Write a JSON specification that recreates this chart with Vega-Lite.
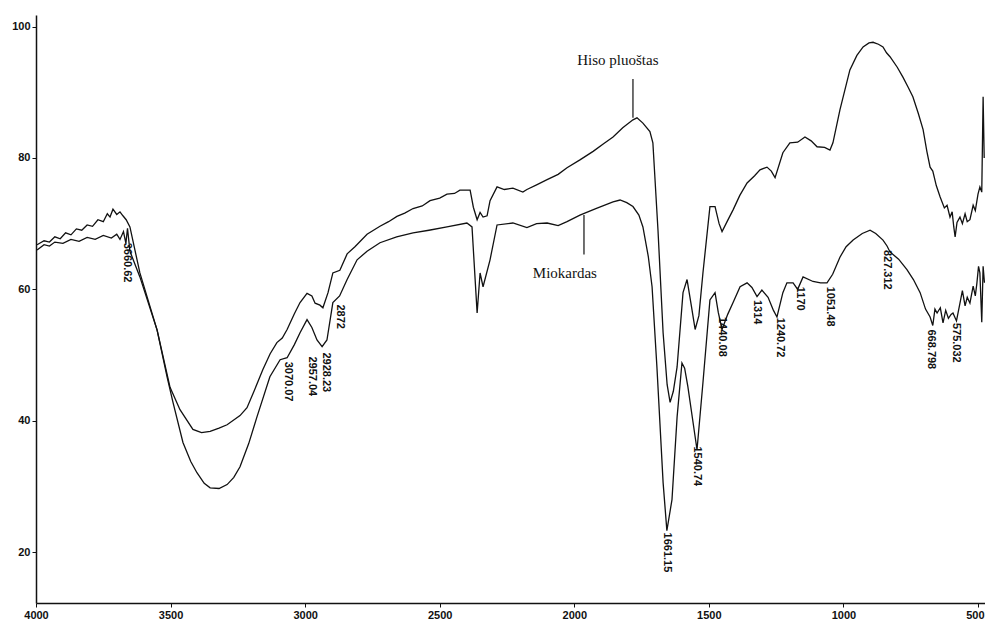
{
  "$schema": "https://vega.github.io/schema/vega-lite/v6.json",
  "width": 949,
  "height": 588,
  "autosize": "none",
  "padding": {"left": 36, "top": 15, "right": 0, "bottom": 22},
  "background": "white",
  "config": {
    "view": {"stroke": null},
    "axis": {
      "grid": false,
      "domainColor": "#111",
      "domainWidth": 1.5,
      "tickColor": "#111",
      "tickSize": 4,
      "tickWidth": 1,
      "labelFont": "Liberation Sans",
      "labelFontWeight": "bold",
      "labelFontSize": 11,
      "labelColor": "#111",
      "labelFlush": false,
      "labelOverlap": false,
      "title": null
    }
  },
  "datasets": {
    "spectra": [
      {"s": "Hiso pluoštas", "wn": 3996, "t": 66.8},
      {"s": "Hiso pluoštas", "wn": 3970, "t": 67.4},
      {"s": "Hiso pluoštas", "wn": 3950, "t": 67.2},
      {"s": "Hiso pluoštas", "wn": 3930, "t": 68.0},
      {"s": "Hiso pluoštas", "wn": 3910, "t": 67.7},
      {"s": "Hiso pluoštas", "wn": 3890, "t": 68.6},
      {"s": "Hiso pluoštas", "wn": 3870, "t": 68.3},
      {"s": "Hiso pluoštas", "wn": 3850, "t": 69.2},
      {"s": "Hiso pluoštas", "wn": 3830, "t": 69.0},
      {"s": "Hiso pluoštas", "wn": 3810, "t": 69.8},
      {"s": "Hiso pluoštas", "wn": 3790, "t": 69.6},
      {"s": "Hiso pluoštas", "wn": 3770, "t": 70.6},
      {"s": "Hiso pluoštas", "wn": 3750, "t": 70.3},
      {"s": "Hiso pluoštas", "wn": 3735, "t": 71.5},
      {"s": "Hiso pluoštas", "wn": 3725, "t": 71.0},
      {"s": "Hiso pluoštas", "wn": 3714, "t": 72.2},
      {"s": "Hiso pluoštas", "wn": 3700, "t": 71.4},
      {"s": "Hiso pluoštas", "wn": 3688, "t": 71.8},
      {"s": "Hiso pluoštas", "wn": 3677, "t": 71.2},
      {"s": "Hiso pluoštas", "wn": 3665, "t": 70.6},
      {"s": "Hiso pluoštas", "wn": 3651, "t": 69.5},
      {"s": "Hiso pluoštas", "wn": 3614, "t": 62.5},
      {"s": "Hiso pluoštas", "wn": 3550, "t": 53.8},
      {"s": "Hiso pluoštas", "wn": 3502, "t": 45.1},
      {"s": "Hiso pluoštas", "wn": 3465, "t": 41.7},
      {"s": "Hiso pluoštas", "wn": 3417, "t": 38.7},
      {"s": "Hiso pluoštas", "wn": 3385, "t": 38.2},
      {"s": "Hiso pluoštas", "wn": 3353, "t": 38.4},
      {"s": "Hiso pluoštas", "wn": 3320, "t": 38.9},
      {"s": "Hiso pluoštas", "wn": 3290, "t": 39.4},
      {"s": "Hiso pluoštas", "wn": 3242, "t": 40.8},
      {"s": "Hiso pluoštas", "wn": 3216, "t": 42.0},
      {"s": "Hiso pluoštas", "wn": 3190, "t": 44.5},
      {"s": "Hiso pluoštas", "wn": 3157, "t": 47.8},
      {"s": "Hiso pluoštas", "wn": 3130, "t": 50.2},
      {"s": "Hiso pluoštas", "wn": 3105, "t": 51.9},
      {"s": "Hiso pluoštas", "wn": 3085, "t": 52.6},
      {"s": "Hiso pluoštas", "wn": 3067, "t": 53.9},
      {"s": "Hiso pluoštas", "wn": 3040, "t": 56.3},
      {"s": "Hiso pluoštas", "wn": 3019, "t": 58.0},
      {"s": "Hiso pluoštas", "wn": 2993, "t": 59.4},
      {"s": "Hiso pluoštas", "wn": 2975, "t": 59.0},
      {"s": "Hiso pluoštas", "wn": 2963, "t": 57.9},
      {"s": "Hiso pluoštas", "wn": 2945, "t": 57.6},
      {"s": "Hiso pluoštas", "wn": 2934, "t": 57.2},
      {"s": "Hiso pluoštas", "wn": 2915, "t": 59.5},
      {"s": "Hiso pluoštas", "wn": 2897, "t": 62.5},
      {"s": "Hiso pluoštas", "wn": 2871, "t": 62.9},
      {"s": "Hiso pluoštas", "wn": 2844, "t": 65.4},
      {"s": "Hiso pluoštas", "wn": 2815, "t": 66.5},
      {"s": "Hiso pluoštas", "wn": 2770, "t": 68.4},
      {"s": "Hiso pluoštas", "wn": 2722, "t": 69.6},
      {"s": "Hiso pluoštas", "wn": 2690, "t": 70.3},
      {"s": "Hiso pluoštas", "wn": 2659, "t": 71.1},
      {"s": "Hiso pluoštas", "wn": 2630, "t": 71.6},
      {"s": "Hiso pluoštas", "wn": 2599, "t": 72.3},
      {"s": "Hiso pluoštas", "wn": 2565, "t": 72.7},
      {"s": "Hiso pluoštas", "wn": 2536, "t": 73.5},
      {"s": "Hiso pluoštas", "wn": 2500, "t": 73.9},
      {"s": "Hiso pluoštas", "wn": 2473, "t": 74.5},
      {"s": "Hiso pluoštas", "wn": 2445, "t": 74.6},
      {"s": "Hiso pluoštas", "wn": 2425, "t": 75.1},
      {"s": "Hiso pluoštas", "wn": 2387, "t": 75.1},
      {"s": "Hiso pluoštas", "wn": 2375, "t": 72.5},
      {"s": "Hiso pluoštas", "wn": 2361, "t": 70.6},
      {"s": "Hiso pluoštas", "wn": 2350, "t": 71.7},
      {"s": "Hiso pluoštas", "wn": 2339, "t": 71.0},
      {"s": "Hiso pluoštas", "wn": 2324, "t": 71.2},
      {"s": "Hiso pluoštas", "wn": 2313, "t": 73.5},
      {"s": "Hiso pluoštas", "wn": 2287, "t": 75.6},
      {"s": "Hiso pluoštas", "wn": 2260, "t": 75.2},
      {"s": "Hiso pluoštas", "wn": 2228, "t": 75.4},
      {"s": "Hiso pluoštas", "wn": 2191, "t": 74.8},
      {"s": "Hiso pluoštas", "wn": 2176, "t": 75.2},
      {"s": "Hiso pluoštas", "wn": 2140, "t": 75.9},
      {"s": "Hiso pluoštas", "wn": 2101, "t": 76.7},
      {"s": "Hiso pluoštas", "wn": 2060, "t": 77.5},
      {"s": "Hiso pluoštas", "wn": 2027, "t": 78.5},
      {"s": "Hiso pluoštas", "wn": 1979, "t": 79.7},
      {"s": "Hiso pluoštas", "wn": 1930, "t": 81.0},
      {"s": "Hiso pluoštas", "wn": 1890, "t": 82.2},
      {"s": "Hiso pluoštas", "wn": 1856, "t": 83.2},
      {"s": "Hiso pluoštas", "wn": 1820, "t": 84.6},
      {"s": "Hiso pluoštas", "wn": 1782, "t": 85.8},
      {"s": "Hiso pluoštas", "wn": 1767, "t": 86.1},
      {"s": "Hiso pluoštas", "wn": 1745, "t": 85.3},
      {"s": "Hiso pluoštas", "wn": 1719, "t": 84.0},
      {"s": "Hiso pluoštas", "wn": 1708, "t": 82.3},
      {"s": "Hiso pluoštas", "wn": 1689, "t": 69.0},
      {"s": "Hiso pluoštas", "wn": 1670, "t": 53.4},
      {"s": "Hiso pluoštas", "wn": 1655, "t": 45.5},
      {"s": "Hiso pluoštas", "wn": 1644, "t": 42.8},
      {"s": "Hiso pluoštas", "wn": 1632, "t": 44.5},
      {"s": "Hiso pluoštas", "wn": 1618, "t": 48.2},
      {"s": "Hiso pluoštas", "wn": 1596, "t": 59.5},
      {"s": "Hiso pluoštas", "wn": 1581, "t": 61.5},
      {"s": "Hiso pluoštas", "wn": 1565, "t": 57.5},
      {"s": "Hiso pluoštas", "wn": 1551, "t": 53.9},
      {"s": "Hiso pluoštas", "wn": 1537, "t": 56.0},
      {"s": "Hiso pluoštas", "wn": 1522, "t": 62.5},
      {"s": "Hiso pluoštas", "wn": 1496, "t": 72.6},
      {"s": "Hiso pluoštas", "wn": 1477, "t": 72.6},
      {"s": "Hiso pluoštas", "wn": 1462, "t": 70.0},
      {"s": "Hiso pluoštas", "wn": 1451, "t": 68.8},
      {"s": "Hiso pluoštas", "wn": 1430, "t": 70.5},
      {"s": "Hiso pluoštas", "wn": 1410, "t": 72.1},
      {"s": "Hiso pluoštas", "wn": 1385, "t": 74.3},
      {"s": "Hiso pluoštas", "wn": 1358, "t": 76.2},
      {"s": "Hiso pluoštas", "wn": 1330, "t": 77.3},
      {"s": "Hiso pluoštas", "wn": 1310, "t": 78.2},
      {"s": "Hiso pluoštas", "wn": 1284, "t": 78.6},
      {"s": "Hiso pluoštas", "wn": 1268, "t": 78.0},
      {"s": "Hiso pluoštas", "wn": 1254, "t": 77.0},
      {"s": "Hiso pluoštas", "wn": 1225, "t": 80.8},
      {"s": "Hiso pluoštas", "wn": 1199, "t": 82.3},
      {"s": "Hiso pluoštas", "wn": 1170, "t": 82.4},
      {"s": "Hiso pluoštas", "wn": 1143, "t": 83.2},
      {"s": "Hiso pluoštas", "wn": 1120, "t": 82.6},
      {"s": "Hiso pluoštas", "wn": 1098, "t": 81.7},
      {"s": "Hiso pluoštas", "wn": 1070, "t": 81.6},
      {"s": "Hiso pluoštas", "wn": 1050, "t": 81.2},
      {"s": "Hiso pluoštas", "wn": 1039, "t": 82.3},
      {"s": "Hiso pluoštas", "wn": 1013, "t": 87.3},
      {"s": "Hiso pluoštas", "wn": 976, "t": 93.4},
      {"s": "Hiso pluoštas", "wn": 950, "t": 95.6},
      {"s": "Hiso pluoštas", "wn": 927, "t": 96.9},
      {"s": "Hiso pluoštas", "wn": 905, "t": 97.5},
      {"s": "Hiso pluoštas", "wn": 890, "t": 97.6},
      {"s": "Hiso pluoštas", "wn": 870, "t": 97.3},
      {"s": "Hiso pluoštas", "wn": 853, "t": 96.9},
      {"s": "Hiso pluoštas", "wn": 840, "t": 96.0},
      {"s": "Hiso pluoštas", "wn": 827, "t": 95.4},
      {"s": "Hiso pluoštas", "wn": 800, "t": 93.8},
      {"s": "Hiso pluoštas", "wn": 779, "t": 92.3},
      {"s": "Hiso pluoštas", "wn": 760, "t": 90.8},
      {"s": "Hiso pluoštas", "wn": 742, "t": 89.3},
      {"s": "Hiso pluoštas", "wn": 722, "t": 86.8},
      {"s": "Hiso pluoštas", "wn": 704, "t": 84.3},
      {"s": "Hiso pluoštas", "wn": 690, "t": 81.0},
      {"s": "Hiso pluoštas", "wn": 678, "t": 78.6},
      {"s": "Hiso pluoštas", "wn": 668, "t": 78.0},
      {"s": "Hiso pluoštas", "wn": 655, "t": 75.8},
      {"s": "Hiso pluoštas", "wn": 641, "t": 74.1},
      {"s": "Hiso pluoštas", "wn": 625, "t": 72.4},
      {"s": "Hiso pluoštas", "wn": 615, "t": 72.8},
      {"s": "Hiso pluoštas", "wn": 604, "t": 71.0},
      {"s": "Hiso pluoštas", "wn": 596, "t": 71.8},
      {"s": "Hiso pluoštas", "wn": 590, "t": 69.5},
      {"s": "Hiso pluoštas", "wn": 585, "t": 68.0},
      {"s": "Hiso pluoštas", "wn": 578, "t": 70.2},
      {"s": "Hiso pluoštas", "wn": 567, "t": 71.0},
      {"s": "Hiso pluoštas", "wn": 558, "t": 70.0},
      {"s": "Hiso pluoštas", "wn": 548, "t": 71.5},
      {"s": "Hiso pluoštas", "wn": 540, "t": 70.3},
      {"s": "Hiso pluoštas", "wn": 530, "t": 70.6},
      {"s": "Hiso pluoštas", "wn": 518, "t": 72.8},
      {"s": "Hiso pluoštas", "wn": 510, "t": 72.0},
      {"s": "Hiso pluoštas", "wn": 500, "t": 74.5},
      {"s": "Hiso pluoštas", "wn": 493, "t": 75.6},
      {"s": "Hiso pluoštas", "wn": 486, "t": 74.8},
      {"s": "Hiso pluoštas", "wn": 481, "t": 89.3},
      {"s": "Hiso pluoštas", "wn": 477, "t": 80.0},

      {"s": "Miokardas", "wn": 3996, "t": 66.0},
      {"s": "Miokardas", "wn": 3970, "t": 66.8},
      {"s": "Miokardas", "wn": 3950, "t": 66.6},
      {"s": "Miokardas", "wn": 3930, "t": 67.2},
      {"s": "Miokardas", "wn": 3900, "t": 67.0},
      {"s": "Miokardas", "wn": 3870, "t": 67.6},
      {"s": "Miokardas", "wn": 3840, "t": 67.3},
      {"s": "Miokardas", "wn": 3810, "t": 67.9},
      {"s": "Miokardas", "wn": 3780, "t": 67.6},
      {"s": "Miokardas", "wn": 3750, "t": 68.2},
      {"s": "Miokardas", "wn": 3720, "t": 67.8},
      {"s": "Miokardas", "wn": 3700, "t": 68.4},
      {"s": "Miokardas", "wn": 3688, "t": 67.6},
      {"s": "Miokardas", "wn": 3675, "t": 68.8},
      {"s": "Miokardas", "wn": 3666, "t": 67.0},
      {"s": "Miokardas", "wn": 3660, "t": 69.3},
      {"s": "Miokardas", "wn": 3651, "t": 65.8},
      {"s": "Miokardas", "wn": 3614, "t": 61.9},
      {"s": "Miokardas", "wn": 3550, "t": 53.8},
      {"s": "Miokardas", "wn": 3513, "t": 46.7},
      {"s": "Miokardas", "wn": 3491, "t": 42.8},
      {"s": "Miokardas", "wn": 3454, "t": 36.7},
      {"s": "Miokardas", "wn": 3425, "t": 33.8},
      {"s": "Miokardas", "wn": 3402, "t": 32.1},
      {"s": "Miokardas", "wn": 3375, "t": 30.5},
      {"s": "Miokardas", "wn": 3353, "t": 29.8},
      {"s": "Miokardas", "wn": 3320, "t": 29.7},
      {"s": "Miokardas", "wn": 3290, "t": 30.3},
      {"s": "Miokardas", "wn": 3265, "t": 31.4},
      {"s": "Miokardas", "wn": 3242, "t": 33.0},
      {"s": "Miokardas", "wn": 3210, "t": 36.5},
      {"s": "Miokardas", "wn": 3179, "t": 40.6},
      {"s": "Miokardas", "wn": 3131, "t": 46.7},
      {"s": "Miokardas", "wn": 3093, "t": 49.3},
      {"s": "Miokardas", "wn": 3067, "t": 49.6},
      {"s": "Miokardas", "wn": 3040, "t": 51.6},
      {"s": "Miokardas", "wn": 3019, "t": 53.4},
      {"s": "Miokardas", "wn": 2993, "t": 55.4},
      {"s": "Miokardas", "wn": 2975, "t": 54.2},
      {"s": "Miokardas", "wn": 2956, "t": 52.3},
      {"s": "Miokardas", "wn": 2937, "t": 51.3},
      {"s": "Miokardas", "wn": 2919, "t": 52.3},
      {"s": "Miokardas", "wn": 2897, "t": 58.0},
      {"s": "Miokardas", "wn": 2872, "t": 59.0},
      {"s": "Miokardas", "wn": 2844, "t": 61.5},
      {"s": "Miokardas", "wn": 2807, "t": 64.5},
      {"s": "Miokardas", "wn": 2770, "t": 65.8},
      {"s": "Miokardas", "wn": 2722, "t": 67.1},
      {"s": "Miokardas", "wn": 2660, "t": 68.0},
      {"s": "Miokardas", "wn": 2599, "t": 68.6},
      {"s": "Miokardas", "wn": 2540, "t": 69.0},
      {"s": "Miokardas", "wn": 2473, "t": 69.5},
      {"s": "Miokardas", "wn": 2399, "t": 70.1},
      {"s": "Miokardas", "wn": 2380, "t": 69.5},
      {"s": "Miokardas", "wn": 2361, "t": 56.4},
      {"s": "Miokardas", "wn": 2350, "t": 62.5},
      {"s": "Miokardas", "wn": 2339, "t": 60.4},
      {"s": "Miokardas", "wn": 2313, "t": 64.5},
      {"s": "Miokardas", "wn": 2287, "t": 69.8},
      {"s": "Miokardas", "wn": 2228, "t": 70.1},
      {"s": "Miokardas", "wn": 2176, "t": 69.4},
      {"s": "Miokardas", "wn": 2140, "t": 70.0},
      {"s": "Miokardas", "wn": 2101, "t": 70.1},
      {"s": "Miokardas", "wn": 2060, "t": 69.7},
      {"s": "Miokardas", "wn": 2027, "t": 70.3},
      {"s": "Miokardas", "wn": 1979, "t": 71.3},
      {"s": "Miokardas", "wn": 1920, "t": 72.3},
      {"s": "Miokardas", "wn": 1856, "t": 73.3},
      {"s": "Miokardas", "wn": 1830, "t": 73.6},
      {"s": "Miokardas", "wn": 1805, "t": 73.2},
      {"s": "Miokardas", "wn": 1782, "t": 72.6},
      {"s": "Miokardas", "wn": 1760, "t": 71.3},
      {"s": "Miokardas", "wn": 1745, "t": 69.5},
      {"s": "Miokardas", "wn": 1725, "t": 65.0},
      {"s": "Miokardas", "wn": 1711, "t": 60.4},
      {"s": "Miokardas", "wn": 1693, "t": 48.2},
      {"s": "Miokardas", "wn": 1670, "t": 30.6},
      {"s": "Miokardas", "wn": 1656, "t": 23.3},
      {"s": "Miokardas", "wn": 1637, "t": 28.0},
      {"s": "Miokardas", "wn": 1618, "t": 40.6},
      {"s": "Miokardas", "wn": 1600, "t": 48.8},
      {"s": "Miokardas", "wn": 1590, "t": 48.0},
      {"s": "Miokardas", "wn": 1578, "t": 45.2},
      {"s": "Miokardas", "wn": 1544, "t": 35.6},
      {"s": "Miokardas", "wn": 1522, "t": 45.8},
      {"s": "Miokardas", "wn": 1496, "t": 58.4},
      {"s": "Miokardas", "wn": 1477, "t": 59.5},
      {"s": "Miokardas", "wn": 1465, "t": 56.5},
      {"s": "Miokardas", "wn": 1451, "t": 53.9},
      {"s": "Miokardas", "wn": 1430, "t": 56.2},
      {"s": "Miokardas", "wn": 1410, "t": 58.0},
      {"s": "Miokardas", "wn": 1384, "t": 60.4},
      {"s": "Miokardas", "wn": 1358, "t": 61.0},
      {"s": "Miokardas", "wn": 1340, "t": 60.3},
      {"s": "Miokardas", "wn": 1321, "t": 58.9},
      {"s": "Miokardas", "wn": 1303, "t": 59.9},
      {"s": "Miokardas", "wn": 1280, "t": 58.8},
      {"s": "Miokardas", "wn": 1260, "t": 56.8},
      {"s": "Miokardas", "wn": 1247, "t": 55.8},
      {"s": "Miokardas", "wn": 1225, "t": 59.5},
      {"s": "Miokardas", "wn": 1210, "t": 61.0},
      {"s": "Miokardas", "wn": 1187, "t": 61.0},
      {"s": "Miokardas", "wn": 1170, "t": 60.0},
      {"s": "Miokardas", "wn": 1150, "t": 61.9},
      {"s": "Miokardas", "wn": 1113, "t": 61.2},
      {"s": "Miokardas", "wn": 1085, "t": 61.0},
      {"s": "Miokardas", "wn": 1061, "t": 61.0},
      {"s": "Miokardas", "wn": 1040, "t": 62.3},
      {"s": "Miokardas", "wn": 1013, "t": 64.9},
      {"s": "Miokardas", "wn": 990, "t": 66.5},
      {"s": "Miokardas", "wn": 964, "t": 67.5},
      {"s": "Miokardas", "wn": 930, "t": 68.5},
      {"s": "Miokardas", "wn": 901, "t": 69.0},
      {"s": "Miokardas", "wn": 880, "t": 68.5},
      {"s": "Miokardas", "wn": 853, "t": 67.5},
      {"s": "Miokardas", "wn": 838, "t": 66.6},
      {"s": "Miokardas", "wn": 827, "t": 65.7},
      {"s": "Miokardas", "wn": 795, "t": 64.6},
      {"s": "Miokardas", "wn": 764, "t": 63.0},
      {"s": "Miokardas", "wn": 740, "t": 61.5},
      {"s": "Miokardas", "wn": 715, "t": 59.5},
      {"s": "Miokardas", "wn": 695, "t": 57.0},
      {"s": "Miokardas", "wn": 678, "t": 55.8},
      {"s": "Miokardas", "wn": 668, "t": 54.5},
      {"s": "Miokardas", "wn": 660, "t": 57.0},
      {"s": "Miokardas", "wn": 652, "t": 56.4},
      {"s": "Miokardas", "wn": 640, "t": 57.2},
      {"s": "Miokardas", "wn": 630, "t": 54.9},
      {"s": "Miokardas", "wn": 620, "t": 56.8},
      {"s": "Miokardas", "wn": 610, "t": 55.6},
      {"s": "Miokardas", "wn": 600, "t": 56.2},
      {"s": "Miokardas", "wn": 593, "t": 56.4},
      {"s": "Miokardas", "wn": 580, "t": 55.2},
      {"s": "Miokardas", "wn": 567, "t": 57.9},
      {"s": "Miokardas", "wn": 558, "t": 59.8},
      {"s": "Miokardas", "wn": 548, "t": 57.5},
      {"s": "Miokardas", "wn": 540, "t": 58.8},
      {"s": "Miokardas", "wn": 530, "t": 57.9},
      {"s": "Miokardas", "wn": 518, "t": 60.5},
      {"s": "Miokardas", "wn": 510, "t": 59.0},
      {"s": "Miokardas", "wn": 504, "t": 61.0},
      {"s": "Miokardas", "wn": 498, "t": 63.5},
      {"s": "Miokardas", "wn": 493, "t": 62.5},
      {"s": "Miokardas", "wn": 486, "t": 55.0},
      {"s": "Miokardas", "wn": 481, "t": 63.5},
      {"s": "Miokardas", "wn": 476, "t": 61.0}
    ],
    "peaks": [
      {"label": "3660.62", "wn": 3662, "t": 67.1},
      {"label": "3070.07", "wn": 3064, "t": 49.0},
      {"label": "2957.04", "wn": 2975, "t": 49.8},
      {"label": "2928.23", "wn": 2923, "t": 50.4},
      {"label": "2872", "wn": 2870, "t": 57.7},
      {"label": "1661.15", "wn": 1656, "t": 23.0},
      {"label": "1540.74", "wn": 1544, "t": 36.1},
      {"label": "1440.08", "wn": 1451, "t": 55.8},
      {"label": "1314", "wn": 1321, "t": 58.4},
      {"label": "1240.72", "wn": 1236, "t": 55.7},
      {"label": "1170", "wn": 1161, "t": 60.4},
      {"label": "1051.48", "wn": 1050, "t": 60.4},
      {"label": "827.312", "wn": 838, "t": 66.0},
      {"label": "668.798", "wn": 675, "t": 53.9},
      {"label": "575.032", "wn": 582, "t": 54.9}
    ],
    "notes": [
      {"label": "Hiso pluoštas", "lx": 1838, "ly": 94.9, "wn": 1782, "t1": 92.0, "t2": 86.1},
      {"label": "Miokardas", "lx": 2035, "ly": 62.5, "wn": 1964, "t1": 71.3, "t2": 65.3}
    ]
  },
  "layer": [
    {
      "data": {"name": "spectra"},
      "mark": {"type": "line", "color": "#111", "strokeWidth": 1.3, "interpolate": "linear"},
      "encoding": {
        "x": {
          "field": "wn", "type": "quantitative",
          "scale": {"domain": [4000, 474], "nice": false, "zero": false},
          "axis": {
            "values": [4000, 3500, 3000, 2500, 2000, 1500, 1000, 500],
            "format": "d",
            "labelAlign": {"condition": {"test": "datum.value == 500", "value": "right"}, "value": "center"},
            "labelOffset": {"condition": {"test": "datum.value == 500", "value": 6}, "value": 0}
          }
        },
        "y": {
          "field": "t", "type": "quantitative",
          "scale": {"domain": [12.28, 101.75], "nice": false, "zero": false},
          "axis": {"values": [20, 40, 60, 80, 100], "format": "d"}
        },
        "detail": {"field": "s"}
      }
    },
    {
      "data": {"name": "peaks"},
      "mark": {"type": "text", "angle": 90, "align": "left", "baseline": "middle", "font": "Liberation Sans", "fontWeight": "bold", "fontSize": 11, "color": "#111"},
      "encoding": {
        "x": {"field": "wn", "type": "quantitative"},
        "y": {"field": "t", "type": "quantitative"},
        "text": {"field": "label"}
      }
    },
    {
      "data": {"name": "notes"},
      "mark": {"type": "rule", "color": "#111", "strokeWidth": 1.2},
      "encoding": {
        "x": {"field": "wn", "type": "quantitative"},
        "y": {"field": "t1", "type": "quantitative"},
        "y2": {"field": "t2"}
      }
    },
    {
      "data": {"name": "notes"},
      "mark": {"type": "text", "align": "center", "baseline": "middle", "font": "Liberation Serif", "fontSize": 15, "color": "#111"},
      "encoding": {
        "x": {"field": "lx", "type": "quantitative"},
        "y": {"field": "ly", "type": "quantitative"},
        "text": {"field": "label"}
      }
    }
  ]
}
